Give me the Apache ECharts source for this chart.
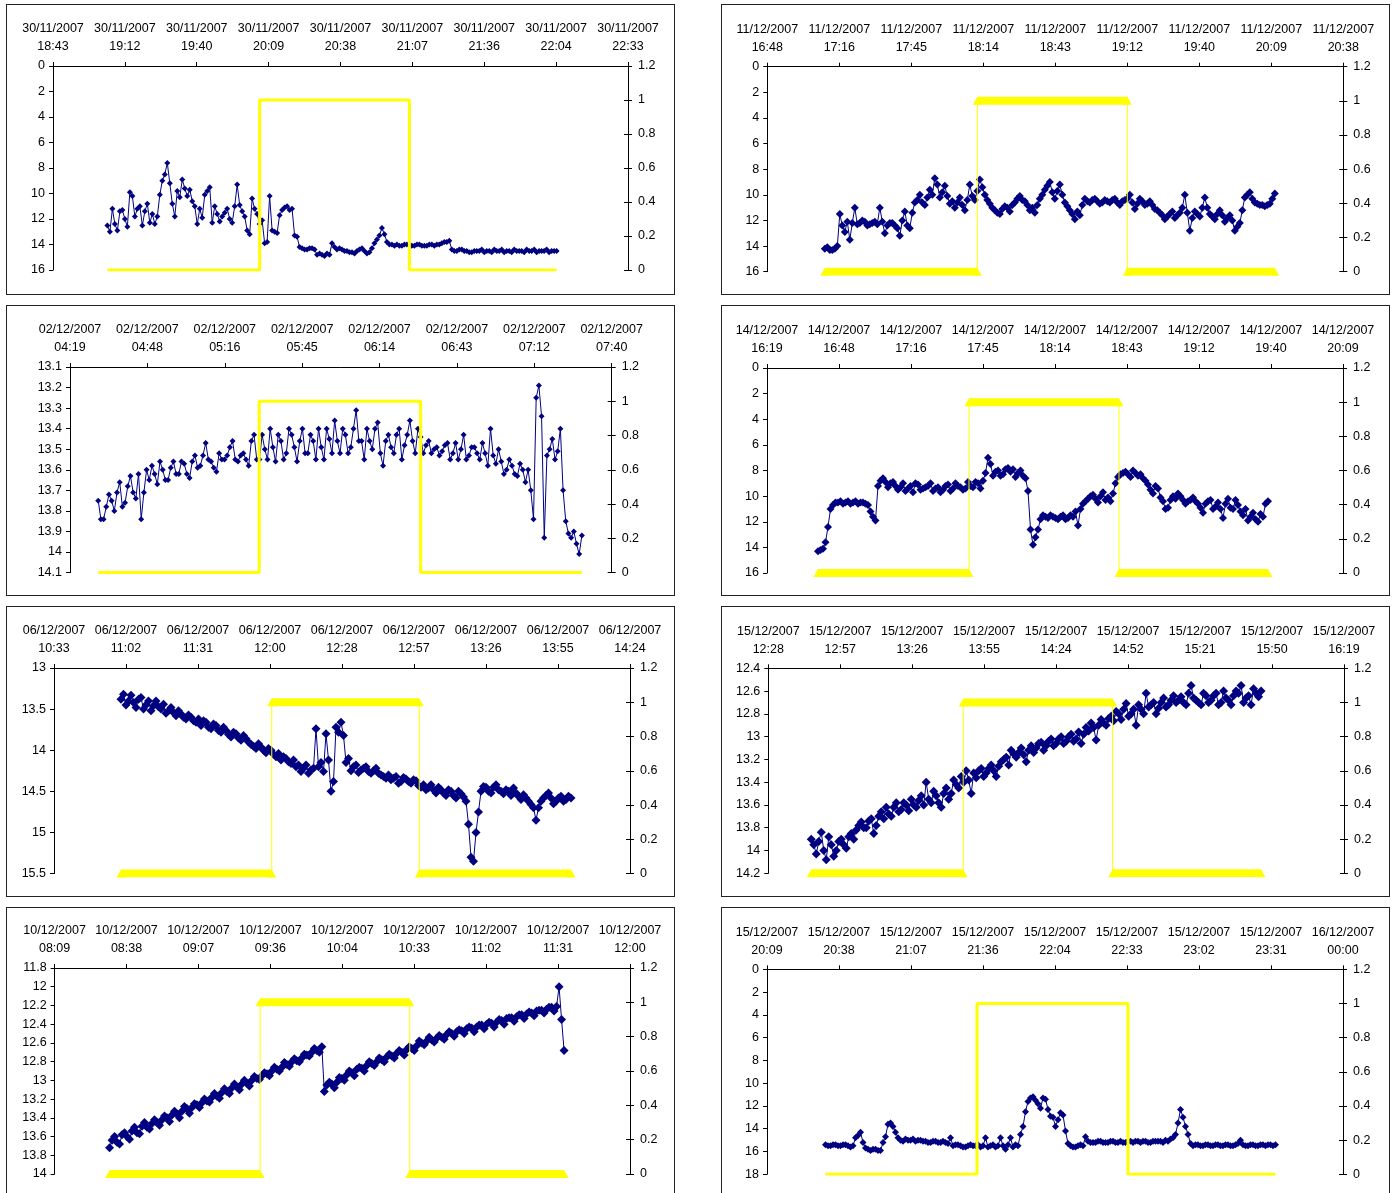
<!DOCTYPE html>
<html>
<head>
<meta charset="utf-8">
<title>Depth traces with stimulus periods</title>
<script src="https://cdn.jsdelivr.net/npm/echarts@6/dist/echarts.min.js"></script>
<style>
  body { margin: 0; background: #fff; width: 1394px; height: 1193px; overflow: hidden; position: relative; }
  .panel { position: absolute; width: 667px; height: 289px; border: 1px solid #222; background: #fff; }
</style>
</head>
<body>
<div class="panel" id="p1" style="left:6px;top:4px"></div>
<div class="panel" id="p2" style="left:721px;top:4px"></div>
<div class="panel" id="p3" style="left:6px;top:305px"></div>
<div class="panel" id="p4" style="left:721px;top:305px"></div>
<div class="panel" id="p5" style="left:6px;top:606px"></div>
<div class="panel" id="p6" style="left:721px;top:606px"></div>
<div class="panel" id="p7" style="left:6px;top:907px"></div>
<div class="panel" id="p8" style="left:721px;top:907px"></div>
<script>
// recording date of each panel and axis ranges (times in minutes after midnight)
var panelDates = ['30/11/2007', '11/12/2007', '02/12/2007', '14/12/2007',
                  '06/12/2007', '15/12/2007', '10/12/2007', '15/12/2007'];
var axisStart = [1123.2, 1008, 259.2, 979.2, 633.6, 748.8, 489.6, 1209.6];
var axisSteps = [8, 8, 7, 8, 8, 8, 8, 8];
var tickStep = 28.8;

// left (inverted) axis ranges
var leftMin = [0, 0, 13.1, 0, 13, 12.4, 11.8, 0];
var leftMax = [16, 16, 14.1, 16, 15.5, 14.2, 14, 18];
var leftStep = [2, 2, 0.1, 2, 0.5, 0.2, 0.2, 2];

// first reading time; one reading per minute, kept as even-minute and odd-minute columns
var sampleStart = [1145, 1031, 269.7, 999.6, 660.4, 766, 511.6, 1233];

// stimulus on / off times
var stimOn = [1206, 1092, 329.6, 1060, 720.7, 826.8, 571.9, 1293.6];
var stimOff = [1266, 1152, 389.7, 1120, 779.7, 886.6, 631.8, 1354];

var trace1 = [12.5, 11.2, 12.9, 11.3, 12.6, 10.2, 11.2, 12.5, 10.8, 11.6,
  11.8, 9.0, 7.6, 10.8, 9.8, 8.9, 10.2, 10.6, 12.4, 11.9,
  9.8, 12.3, 11.6, 11.8, 11.2, 12.3, 9.3, 11.4, 12.9, 10.4,
  11.6, 12.1, 13.8, 12.9, 13.1, 11.3, 11.0, 11.2, 13.4, 14.3,
  14.4, 14.3, 14.8, 14.8, 14.7, 13.9, 14.4, 14.4, 14.5, 14.6,
  14.5, 14.3, 14.7, 14.3, 13.6, 12.7, 13.8, 14.0,
  14.0, 14.1, 14.0, 14.1, 14.0, 14.1, 14.1, 14.0, 14.0, 13.9, 13.8,
  14.4, 14.5, 14.4, 14.5, 14.6, 14.5, 14.4, 14.5, 14.6, 14.5, 14.4,
  14.5, 14.6, 14.5, 14.5, 14.4, 14.5, 14.6, 14.5, 14.4, 14.5, 14.5];
var trace1odd = [13.0, 12.4, 11.4, 12.0, 9.9, 11.8, 11.0, 11.4, 12.3, 12.4,
  10.1, 8.5, 9.2, 11.8, 10.3, 9.6, 9.7, 11.0, 11.2, 10.1,
  9.5, 11.0, 12.2, 11.5, 12.0, 11.0, 10.9, 11.8, 13.2, 11.2,
  12.4, 13.9, 10.2, 13.0, 11.7, 11.1, 11.3, 13.3, 14.2, 14.4,
  14.3, 14.4, 14.7, 14.9, 14.8, 14.2, 14.3, 14.5, 14.6, 14.7,
  14.4, 14.5, 14.6, 13.9, 13.3, 13.2, 14.0, 14.1,
  14.1, 14.0, 14.0, 14.1, 14.0, 14.1, 14.0, 14.1, 14.0, 13.8, 13.7,
  14.5, 14.4, 14.5, 14.6, 14.5, 14.5, 14.6, 14.5, 14.4, 14.5, 14.6,
  14.5, 14.4, 14.5, 14.6, 14.5, 14.4, 14.5, 14.5, 14.6, 14.5];

var trace2 = [14.2, 14.3, 14.2, 11.5, 12.9, 13.5, 11.0, 12.2, 12.1, 12.3,
  12.1, 11.0, 13.0, 12.2, 12.4, 13.2, 11.3, 12.6, 10.6, 10.0,
  10.8, 9.6, 8.7, 10.2, 9.3, 10.7, 11.0, 10.2, 11.2, 9.2,
  10.4, 8.8, 10.0, 10.7, 11.2, 11.5, 10.9, 11.3, 10.6, 10.1,
  10.5, 11.2, 11.4, 10.3, 9.6, 9.0, 10.3, 9.2, 10.6, 11.2,
  11.9, 11.6, 10.3, 10.6, 10.3, 10.7, 10.4, 10.6, 10.3, 10.8,
  10.4, 10.0, 11.1, 10.3, 10.8, 10.5, 11.1, 11.4, 11.9, 11.5,
  11.8, 11.4, 10.0, 12.8, 11.3, 11.7, 10.2, 11.5, 11.9, 11.2,
  12.1, 11.6, 12.8, 12.2, 10.2, 9.8, 10.6, 10.8, 10.9, 10.7, 9.9];
var trace2odd = [14.1, 14.3, 14.0, 12.4, 12.1, 12.2, 12.3, 12.0, 12.4, 12.2,
  12.3, 12.1, 12.4, 12.2, 12.6, 12.0, 12.4, 11.4, 10.4, 10.6,
  10.2, 10.0, 9.2, 9.8, 10.1, 10.5, 10.6, 10.8, 10.4, 10.1,
  9.7, 9.4, 10.4, 11.0, 11.4, 11.1, 11.0, 10.8, 10.3, 10.4,
  10.8, 11.0, 10.8, 10.0, 9.3, 9.8, 9.7, 10.0, 10.9, 11.5,
  11.3, 10.8, 10.5, 10.4, 10.5, 10.6, 10.5, 10.4, 10.6, 10.5,
  10.3, 10.6, 10.7, 10.5, 10.7, 10.8, 11.2, 11.6, 11.7, 11.3,
  11.6, 11.0, 11.4, 11.8, 11.5, 11.0, 11.0, 11.7, 11.5, 11.6,
  11.8, 12.0, 12.5, 11.2, 10.0, 10.3, 10.7, 10.8, 10.8, 10.3];

var trace3 = [13.75, 13.84, 13.72, 13.80, 13.66, 13.76, 13.63, 13.74, 13.84, 13.60,
  13.58, 13.67, 13.60, 13.65, 13.56, 13.62, 13.57, 13.64, 13.53, 13.58,
  13.47, 13.56, 13.61, 13.55, 13.53, 13.46, 13.56, 13.52, 13.58, 13.43,
  13.55, 13.50, 13.40, 13.56, 13.46, 13.52, 13.43, 13.56, 13.40, 13.52,
  13.46, 13.40, 13.55, 13.45, 13.36, 13.52, 13.43, 13.49, 13.31, 13.46,
  13.40, 13.50, 13.37, 13.58, 13.43, 13.52, 13.40, 13.48, 13.36, 13.52,
  13.44, 13.48, 13.52, 13.49, 13.51, 13.47, 13.52, 13.55, 13.43, 13.53,
  13.49, 13.55, 13.52, 13.40, 13.57, 13.56, 13.60, 13.58, 13.63, 13.60,
  13.60, 13.84, 13.19, 13.93, 13.50, 13.55, 13.40, 13.85, 13.93, 13.96, 13.92];
var trace3odd = [13.84, 13.78, 13.75, 13.71, 13.78, 13.68, 13.71, 13.62, 13.71, 13.65,
  13.62, 13.56, 13.65, 13.59, 13.62, 13.56, 13.62, 13.56, 13.59, 13.53,
  13.55, 13.59, 13.52, 13.55, 13.49, 13.55, 13.53, 13.55, 13.46, 13.55,
  13.43, 13.55, 13.49, 13.43, 13.55, 13.40, 13.49, 13.46, 13.52, 13.43,
  13.55, 13.49, 13.40, 13.52, 13.46, 13.40, 13.52, 13.40, 13.46, 13.55,
  13.46, 13.40, 13.52, 13.46, 13.49, 13.43, 13.55, 13.43, 13.46, 13.40,
  13.52, 13.46, 13.50, 13.53, 13.48, 13.55, 13.47, 13.50, 13.55, 13.49,
  13.52, 13.47, 13.58, 13.53, 13.50, 13.62, 13.55, 13.62, 13.57, 13.66,
  13.70, 13.25, 13.34, 13.53, 13.45, 13.51, 13.70, 13.91, 13.90, 14.01];

var trace4 = [14.3, 14.1, 12.4, 10.7, 10.5, 10.6, 10.4, 10.5, 10.6, 10.5,
  10.7, 11.6, 9.2, 8.6, 9.3, 8.9, 9.5, 9.0, 9.4, 9.7,
  9.1, 9.4, 9.2, 9.6, 9.3, 9.5, 9.1, 9.4, 9.2, 9.5,
  8.9, 9.3, 9.0, 8.8, 7.0, 8.4, 8.0, 8.3, 7.8, 7.9,
  8.2, 8.4, 9.6, 13.8, 12.6, 11.5, 11.7, 11.6, 11.8, 11.5,
  11.7, 11.6, 12.3, 10.6, 10.2, 9.9, 10.5, 9.7, 10.1, 9.8,
  8.5, 8.2, 8.3, 8.0, 8.4, 8.6, 9.1, 9.8, 9.4, 10.4,
  10.9, 10.0, 9.8, 10.3, 10.4, 10.1, 10.6, 11.3, 10.4, 11.0,
  10.5, 11.7, 10.2, 11.0, 10.7, 11.5, 11.9, 11.3, 12.0, 11.6, 10.4];
var trace4odd = [14.2, 13.6, 11.0, 10.5, 10.4, 10.5, 10.6, 10.4, 10.5, 10.6,
  11.2, 11.9, 8.8, 8.9, 9.0, 9.2, 9.3, 9.6, 9.2, 9.0,
  9.5, 9.3, 9.0, 9.4, 9.7, 9.2, 9.6, 9.0, 9.3, 9.4,
  9.2, 8.9, 9.4, 8.2, 7.5, 8.1, 8.4, 7.9, 8.1, 8.5,
  8.0, 8.6, 12.6, 13.2, 11.8, 11.6, 11.5, 11.7, 11.6, 11.8,
  11.5, 11.2, 11.0, 10.4, 10.0, 10.2, 10.0, 10.3, 10.4, 9.0,
  8.3, 8.1, 8.5, 8.2, 8.3, 8.8, 9.5, 9.2, 10.1, 11.0,
  10.3, 10.2, 10.0, 10.6, 10.3, 10.4, 10.9, 10.6, 10.3, 10.8,
  11.0, 10.6, 10.9, 10.3, 11.2, 11.0, 11.6, 11.8, 11.4, 10.6];

var trace5 = [13.38, 13.45, 13.33, 13.48, 13.36, 13.45, 13.52, 13.40, 13.50, 13.55,
  13.48, 13.58, 13.56, 13.62, 13.60, 13.66, 13.70, 13.66, 13.74, 13.70,
  13.78, 13.76, 13.84, 13.80, 13.88, 13.86, 13.93, 13.98, 13.96, 14.03,
  14.00, 14.08, 14.12, 14.10, 14.16, 14.20, 14.26, 14.18, 14.24, 13.74,
  14.15, 13.80, 14.50, 13.72, 13.66, 14.15, 14.25, 14.18, 14.24, 14.20,
  14.28, 14.22, 14.30, 14.34, 14.36, 14.32, 14.38, 14.35, 14.40, 14.37,
  14.45, 14.48, 14.42, 14.52, 14.48, 14.55, 14.50, 14.58, 14.53, 14.62,
  15.30, 15.00, 14.50, 14.45, 14.52, 14.42, 14.50, 14.48, 14.55, 14.52,
  14.60, 14.58, 14.66, 14.85, 14.62, 14.55, 14.58, 14.62, 14.56, 14.60, 14.58];
var trace5odd = [13.32, 13.40, 13.42, 13.38, 13.50, 13.40, 13.46, 13.47, 13.44, 13.52,
  13.54, 13.52, 13.60, 13.57, 13.64, 13.62, 13.64, 13.72, 13.68, 13.76,
  13.72, 13.81, 13.78, 13.85, 13.82, 13.90, 13.95, 13.92, 14.00, 13.98,
  14.05, 14.04, 14.08, 14.14, 14.12, 14.18, 14.22, 14.28, 14.22, 14.20,
  14.26, 14.12, 14.38, 13.78, 13.82, 14.10, 14.20, 14.27, 14.22, 14.26,
  14.25, 14.28, 14.32, 14.30, 14.34, 14.40, 14.33, 14.38, 14.36, 14.43,
  14.42, 14.46, 14.48, 14.45, 14.52, 14.48, 14.55, 14.50, 14.57, 14.90,
  15.35, 14.75, 14.44, 14.50, 14.45, 14.48, 14.53, 14.50, 14.46, 14.56,
  14.54, 14.62, 14.70, 14.70, 14.58, 14.52, 14.65, 14.58, 14.62, 14.56];

var trace6 = [13.90, 14.03, 13.84, 14.08, 13.95, 14.00, 13.90, 13.98, 13.85, 13.82,
  13.75, 13.80, 13.72, 13.78, 13.66, 13.62, 13.70, 13.58, 13.64, 13.60,
  13.55, 13.62, 13.52, 13.40, 13.58, 13.52, 13.62, 13.45, 13.50, 13.42,
  13.35, 13.30, 13.50, 13.36, 13.28, 13.32, 13.25, 13.35, 13.22, 13.18,
  13.12, 13.18, 13.10, 13.22, 13.08, 13.10, 13.05, 13.08, 13.02, 13.06,
  13.00, 13.04, 12.98, 13.02, 13.06, 12.92, 12.88, 13.03, 12.85, 12.90,
  12.82, 12.78, 12.85, 12.71, 12.80, 12.90, 12.76, 12.62, 12.72, 12.80,
  12.70, 12.74, 12.68, 12.70, 12.65, 12.72, 12.55, 12.68, 12.72, 12.64,
  12.68, 12.62, 12.70, 12.66, 12.72, 12.60, 12.55, 12.66, 12.72, 12.62, 12.60];
var trace6odd = [13.95, 13.92, 14.00, 13.88, 14.05, 13.92, 13.95, 13.88, 13.90, 13.78,
  13.80, 13.74, 13.85, 13.70, 13.72, 13.68, 13.62, 13.66, 13.58, 13.65,
  13.60, 13.56, 13.60, 13.55, 13.48, 13.58, 13.50, 13.55, 13.38, 13.45,
  13.40, 13.38, 13.32, 13.30, 13.35, 13.28, 13.30, 13.26, 13.20, 13.25,
  13.15, 13.14, 13.16, 13.12, 13.14, 13.06, 13.12, 13.04, 13.08, 13.02,
  13.06, 13.00, 13.04, 12.96, 12.98, 12.95, 12.92, 12.90, 12.88, 12.84,
  12.86, 12.80, 12.76, 12.82, 12.76, 12.72, 12.80, 12.74, 12.70, 12.75,
  12.66, 12.72, 12.64, 12.68, 12.70, 12.62, 12.66, 12.70, 12.62, 12.70,
  12.64, 12.72, 12.60, 12.68, 12.64, 12.62, 12.70, 12.64, 12.58, 12.65];

var trace7 = [13.72, 13.60, 13.68, 13.56, 13.63, 13.50, 13.57, 13.45, 13.52, 13.42,
  13.48, 13.38, 13.44, 13.33, 13.40, 13.28, 13.35, 13.25, 13.29, 13.20,
  13.23, 13.14, 13.19, 13.09, 13.14, 13.04, 13.10, 13.00, 13.06, 12.96,
  12.99, 12.92, 12.95, 12.86, 12.90, 12.81, 12.85, 12.77, 12.80, 12.72,
  12.74, 12.66, 12.70, 13.12, 13.02, 13.08, 12.97, 13.00, 12.90, 12.95,
  12.86, 12.90, 12.80, 12.84, 12.76, 12.80, 12.72, 12.76, 12.68, 12.73,
  12.64, 12.68, 12.58, 12.62, 12.54, 12.59, 12.52, 12.56, 12.48, 12.53,
  12.46, 12.50, 12.43, 12.48, 12.41, 12.45, 12.38, 12.43, 12.35, 12.40,
  12.33, 12.37, 12.30, 12.34, 12.27, 12.31, 12.25, 12.28, 12.22, 12.26, 12.00, 12.68];
var trace7odd = [13.64, 13.66, 13.58, 13.60, 13.54, 13.56, 13.49, 13.50, 13.46, 13.45,
  13.42, 13.40, 13.37, 13.36, 13.33, 13.30, 13.29, 13.26, 13.24, 13.22,
  13.18, 13.17, 13.13, 13.12, 13.08, 13.07, 13.04, 13.03, 13.00, 12.98,
  12.95, 12.93, 12.90, 12.88, 12.86, 12.83, 12.80, 12.79, 12.76, 12.73,
  12.70, 12.68, 12.64, 13.05, 13.04, 13.02, 12.98, 12.94, 12.92, 12.88,
  12.87, 12.84, 12.82, 12.80, 12.78, 12.75, 12.74, 12.71, 12.70, 12.67,
  12.66, 12.63, 12.60, 12.58, 12.57, 12.55, 12.54, 12.51, 12.50, 12.48,
  12.47, 12.45, 12.44, 12.43, 12.41, 12.40, 12.39, 12.38, 12.36, 12.34,
  12.33, 12.32, 12.30, 12.29, 12.28, 12.26, 12.25, 12.24, 12.22, 12.21, 12.35];

var trace8 = [15.4, 15.5, 15.4, 15.5, 15.4, 15.6, 14.8, 14.3, 15.7, 15.9,
  15.8, 15.9, 14.7, 13.5, 14.3, 15.0, 14.9, 15.0, 15.1, 15.0,
  15.1, 15.2, 15.1, 15.2, 15.2, 14.8, 15.4, 15.5, 15.6, 15.4,
  15.5, 15.6, 14.8, 15.5, 15.6, 14.8, 15.8, 14.8, 15.4, 14.5,
  12.5, 11.3, 11.5, 12.2, 11.4, 12.9, 13.8, 12.6, 14.2, 15.5,
  15.6, 15.4, 14.7, 15.2, 15.2, 15.1, 15.2, 15.1, 15.2, 15.1,
  15.2, 15.1, 15.1, 15.2, 15.1, 15.2, 15.1, 15.1, 15.0, 14.9,
  14.5, 12.3, 13.8, 15.3, 15.4, 15.5, 15.4, 15.5, 15.4, 15.5,
  15.4, 15.5, 15.4, 15.0, 15.5, 15.4, 15.5, 15.4, 15.5, 15.4, 15.4];
var trace8odd = [15.5, 15.4, 15.5, 15.4, 15.5, 15.5, 14.6, 15.2, 15.8, 15.8,
  15.9, 15.2, 13.6, 13.8, 14.8, 15.1, 15.0, 14.9, 15.0, 15.1,
  15.2, 15.1, 15.2, 15.1, 15.3, 15.5, 15.4, 15.6, 15.5, 15.5,
  15.4, 15.5, 15.6, 15.4, 15.5, 15.5, 15.4, 15.6, 15.5, 13.8,
  11.6, 11.2, 11.8, 11.3, 12.3, 13.0, 13.2, 12.8, 15.3, 15.6,
  15.5, 15.5, 15.1, 15.2, 15.1, 15.2, 15.2, 15.1, 15.2, 15.2,
  15.1, 15.2, 15.1, 15.1, 15.2, 15.1, 15.1, 15.2, 15.1, 14.8,
  13.5, 13.0, 14.5, 15.5, 15.4, 15.5, 15.4, 15.5, 15.4, 15.5,
  15.4, 15.5, 15.3, 15.4, 15.5, 15.4, 15.5, 15.4, 15.4, 15.5];

var evenReadings = [trace1, trace2, trace3, trace4, trace5, trace6, trace7, trace8];
var oddReadings = [trace1odd, trace2odd, trace3odd, trace4odd, trace5odd, trace6odd, trace7odd, trace8odd];

// layout of each panel (plot area inside its box)
var layout = [
  {left: 46, top: 61, width: 575, height: 204, band: false, dot: 6},
  {left: 45.3, top: 61.7, width: 576, height: 205, band: true, dot: 8},
  {left: 63, top: 61, width: 541.7, height: 205.6, band: false, dot: 6},
  {left: 45, top: 62, width: 576, height: 205, band: true, dot: 8},
  {left: 47, top: 61, width: 576, height: 205.6, band: true, dot: 9},
  {left: 46.3, top: 61.3, width: 575.7, height: 205, band: true, dot: 9},
  {left: 47.6, top: 60, width: 575.4, height: 206, band: true, dot: 9},
  {left: 45, top: 61.3, width: 576, height: 205, band: false, dot: 7}
];

var FONT = 'Liberation Sans, Arial, sans-serif';
var NAVY = '#000080';
var YELLOW = '#ffff00';

function pad(n) { return (n < 10 ? '0' : '') + n; }

function timeLabel(base, v) {
  var mins = Math.floor(v + 1e-4);
  var p = base.split('/');
  var d = new Date(+p[2], +p[1] - 1, +p[0] + Math.floor(mins / 1440));
  var m = mins % 1440;
  return pad(d.getDate()) + '/' + pad(d.getMonth() + 1) + '/' + d.getFullYear() +
    '\n' + pad(Math.floor(m / 60)) + ':' + pad(m % 60);
}

function numLabel(v) { return String(+v.toFixed(2)); }

function buildPanel(k) {
  var cfg = layout[k];
  var chart = echarts.init(document.getElementById('p' + (k + 1)));
  var t0 = sampleStart[k];
  var even = evenReadings[k], odd = oddReadings[k];
  var navy = [];
  even.forEach(function (v, i) {
    navy.push([t0 + 2 * i, v]);
    if (i < odd.length) navy.push([t0 + 2 * i + 1, odd[i]]);
  });
  var tEnd = navy[navy.length - 1][0];

  var on = stimOn[k], off = stimOff[k];
  var stim = [[t0, 0], [on, 0], [on, 1], [off, 1], [off, 0], [tEnd, 0]];

  var axisText = {color: '#000', fontFamily: FONT, fontSize: 12.5};
  var line = {show: true, onZero: false, lineStyle: {color: '#000', width: 1}};
  var tick = {show: true, length: 4, lineStyle: {color: '#000'}};

  var series = [
    {
      type: 'line', yAxisIndex: 0, data: navy, z: 2,
      symbol: 'diamond', symbolSize: cfg.dot, showAllSymbol: true,
      itemStyle: {color: NAVY}, lineStyle: {color: NAVY, width: 1},
      emphasis: {disabled: true}
    },
    {
      type: 'line', yAxisIndex: 1, data: stim, z: 3, symbol: 'none',
      lineStyle: {color: YELLOW, width: cfg.band ? 1 : 3},
      emphasis: {disabled: true}
    }
  ];
  if (cfg.band) {
    // dense triangle markers in the original show up as thick bars
    [[t0, on, 0], [on, off, 1], [off, tEnd, 0]].forEach(function (s) {
      series.push({
        type: 'line', yAxisIndex: 1, z: 3, data: [[s[0], s[2]], [s[1], s[2]]],
        symbol: 'triangle', symbolSize: [9, 8], showAllSymbol: true,
        itemStyle: {color: YELLOW}, lineStyle: {color: YELLOW, width: 8, cap: 'butt'},
        emphasis: {disabled: true}
      });
    });
  }

  chart.setOption({
    animation: false,
    grid: {left: cfg.left, top: cfg.top, width: cfg.width, height: cfg.height},
    xAxis: {
      type: 'value', position: 'top',
      min: axisStart[k], max: axisStart[k] + axisSteps[k] * tickStep, interval: tickStep,
      axisLine: line, axisTick: tick, splitLine: {show: false},
      axisLabel: Object.assign({margin: 10, lineHeight: 18, showMinLabel: true, showMaxLabel: true,
        formatter: function (v) { return timeLabel(panelDates[k], v); }}, axisText)
    },
    yAxis: [
      {
        type: 'value', position: 'left', inverse: true,
        min: leftMin[k], max: leftMax[k], interval: leftStep[k],
        axisLine: line, axisTick: tick, splitLine: {show: false},
        axisLabel: Object.assign({margin: 8, formatter: numLabel}, axisText)
      },
      {
        type: 'value', position: 'right', min: 0, max: 1.2, interval: 0.2,
        axisLine: line, axisTick: tick, splitLine: {show: false},
        axisLabel: Object.assign({margin: 10, formatter: numLabel}, axisText)
      },
      {
        type: 'value', position: 'right', min: 0, max: 1.2, interval: 0.2,
        axisLine: {show: false}, axisTick: {show: true, inside: true, length: 4, lineStyle: {color: '#000'}},
        axisLabel: {show: false}, splitLine: {show: false}
      }
    ],
    series: series
  });
}

for (var k = 0; k < 8; k++) { buildPanel(k); }
</script>
</body>
</html>
